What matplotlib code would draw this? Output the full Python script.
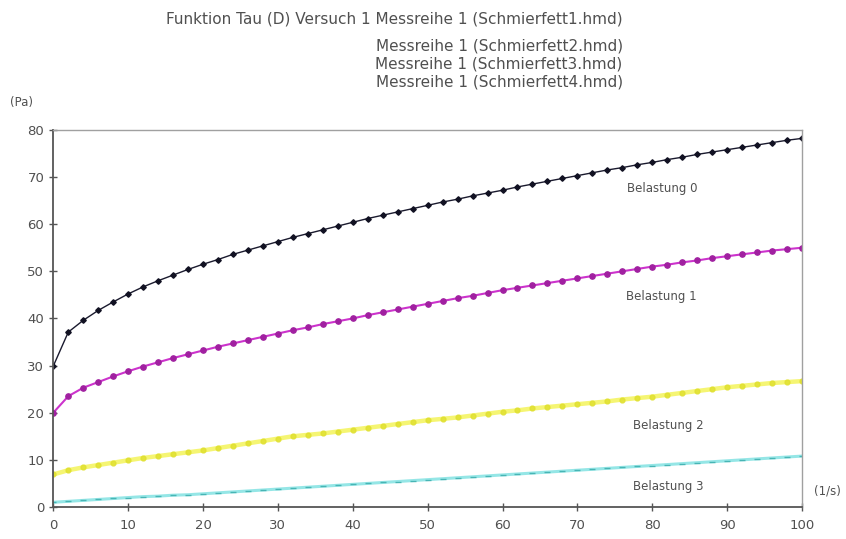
import matplotlib
matplotlib.use("Agg")
import matplotlib.pyplot as plt

plt.rcParams["font.family"] = ["DejaVu Sans"]

# shear rate (1/s), sampled every 2
rate = list(range(0, 101, 2))

tau_fett1 = [29.9, 37.1, 39.6, 41.7, 43.5, 45.2, 46.7, 48.0, 49.2, 50.4,
             51.5, 52.5, 53.6, 54.5, 55.4, 56.3, 57.2, 58.0, 58.8, 59.6,
             60.4, 61.2, 61.9, 62.6, 63.3, 64.0, 64.7, 65.3, 66.0, 66.6,
             67.2, 67.9, 68.5, 69.1, 69.7, 70.3, 70.9, 71.5, 72.0, 72.6,
             73.1, 73.7, 74.2, 74.8, 75.3, 75.8, 76.3, 76.8, 77.3, 77.8, 78.2]
tau_fett2 = [20.0, 23.5, 25.3, 26.5, 27.7, 28.8, 29.8, 30.7, 31.6, 32.4,
             33.2, 34.0, 34.7, 35.4, 36.1, 36.8, 37.5, 38.1, 38.8, 39.4,
             40.0, 40.7, 41.3, 41.9, 42.5, 43.1, 43.7, 44.3, 44.8, 45.4,
             46.0, 46.5, 47.0, 47.5, 48.0, 48.5, 49.0, 49.5, 50.0, 50.5,
             51.0, 51.4, 51.9, 52.3, 52.8, 53.2, 53.6, 54.0, 54.4, 54.7, 55.0]
tau_fett3 = [6.9, 7.8, 8.4, 8.9, 9.4, 9.9, 10.4, 10.8, 11.2, 11.6,
             12.0, 12.5, 13.0, 13.5, 14.0, 14.5, 15.0, 15.3, 15.6, 16.0,
             16.4, 16.8, 17.2, 17.6, 18.0, 18.4, 18.7, 19.0, 19.4, 19.8,
             20.2, 20.5, 20.9, 21.2, 21.5, 21.8, 22.1, 22.4, 22.8, 23.1,
             23.4, 23.8, 24.2, 24.6, 25.0, 25.4, 25.7, 26.0, 26.3, 26.5, 26.7]
tau_fett4 = [1.0, 1.2, 1.4, 1.6, 1.8, 2.0, 2.2, 2.3, 2.5, 2.6,
             2.8, 3.0, 3.2, 3.4, 3.6, 3.8, 4.0, 4.2, 4.4, 4.6,
             4.8, 5.0, 5.2, 5.4, 5.6, 5.8, 6.0, 6.2, 6.4, 6.6,
             6.8, 7.0, 7.2, 7.4, 7.6, 7.8, 8.0, 8.2, 8.4, 8.6,
             8.8, 9.0, 9.2, 9.4, 9.6, 9.8, 10.0, 10.2, 10.4, 10.6, 10.8]

labels = ["Belastung 0", "Belastung 1", "Belastung 2", "Belastung 3"]
label_pos = [(81.4, 67.6), (81.2, 44.6), (82.1, 17.3), (82.1, 4.4)]

title_lines = ["Funktion Tau (D) Versuch 1 Messreihe 1 (Schmierfett1.hmd)",
               "Messreihe 1 (Schmierfett2.hmd)",
               "Messreihe 1 (Schmierfett3.hmd)",
               "Messreihe 1 (Schmierfett4.hmd)"]

xticks = list(range(0, 101, 10))
yticks = list(range(0, 81, 10))

grey = "#505050"

fig = plt.figure(figsize=(8.46, 5.39), dpi=100)
ax = fig.add_axes([0.063, 0.0594, 0.885, 0.6996])

ax.plot(rate, tau_fett3, color="#f4f45a", lw=3.2, marker="o", ms=3.5,
        mfc="#e0e030", mec="#e0e030", alpha=0.85)
ax.plot(rate, tau_fett4, color="#8ae4e4", lw=2.2, marker="_", ms=4.5,
        mec="#40b0b0", alpha=0.9)
ax.plot(rate, tau_fett2, color="#cc33cc", lw=1.5, marker="o", ms=3.8,
        mfc="#a020a0", mec="#a020a0")
ax.plot(rate, tau_fett1, color="#1a1a2e", lw=1.0, marker="D", ms=2.8,
        mfc="#111122", mec="#111122")

for text, (x, y) in zip(labels, label_pos):
    ax.text(x, y, text, ha="center", va="center", fontsize=8.5, color=grey)

ax.set_xlim(0, 100)
ax.set_ylim(0, 80)
ax.set_xticks(xticks)
ax.set_yticks(yticks)
ax.tick_params(direction="inout", length=6, width=1, colors="#555555",
               labelcolor=grey, labelsize=9.5)
ax.tick_params(axis="x", pad=6)
for side in ("left", "bottom"):
    ax.spines[side].set_color("#555555")
    ax.spines[side].set_linewidth(1.3)
for side in ("top", "right"):
    ax.spines[side].set_color("#a0a0a0")
    ax.spines[side].set_linewidth(1.0)

fig.text(0.012, 0.81, "(Pa)", fontsize=8.5, color=grey, va="center")
fig.text(0.962, 0.089, "(1/s)", fontsize=8.5, color=grey, va="center")

title_y = [0.965, 0.915, 0.881, 0.847]
for line, y in zip(title_lines, title_y):
    fig.text(0.736, y, line, ha="right", va="center", fontsize=11, color=grey)

fig.savefig("out.png", dpi=100)
